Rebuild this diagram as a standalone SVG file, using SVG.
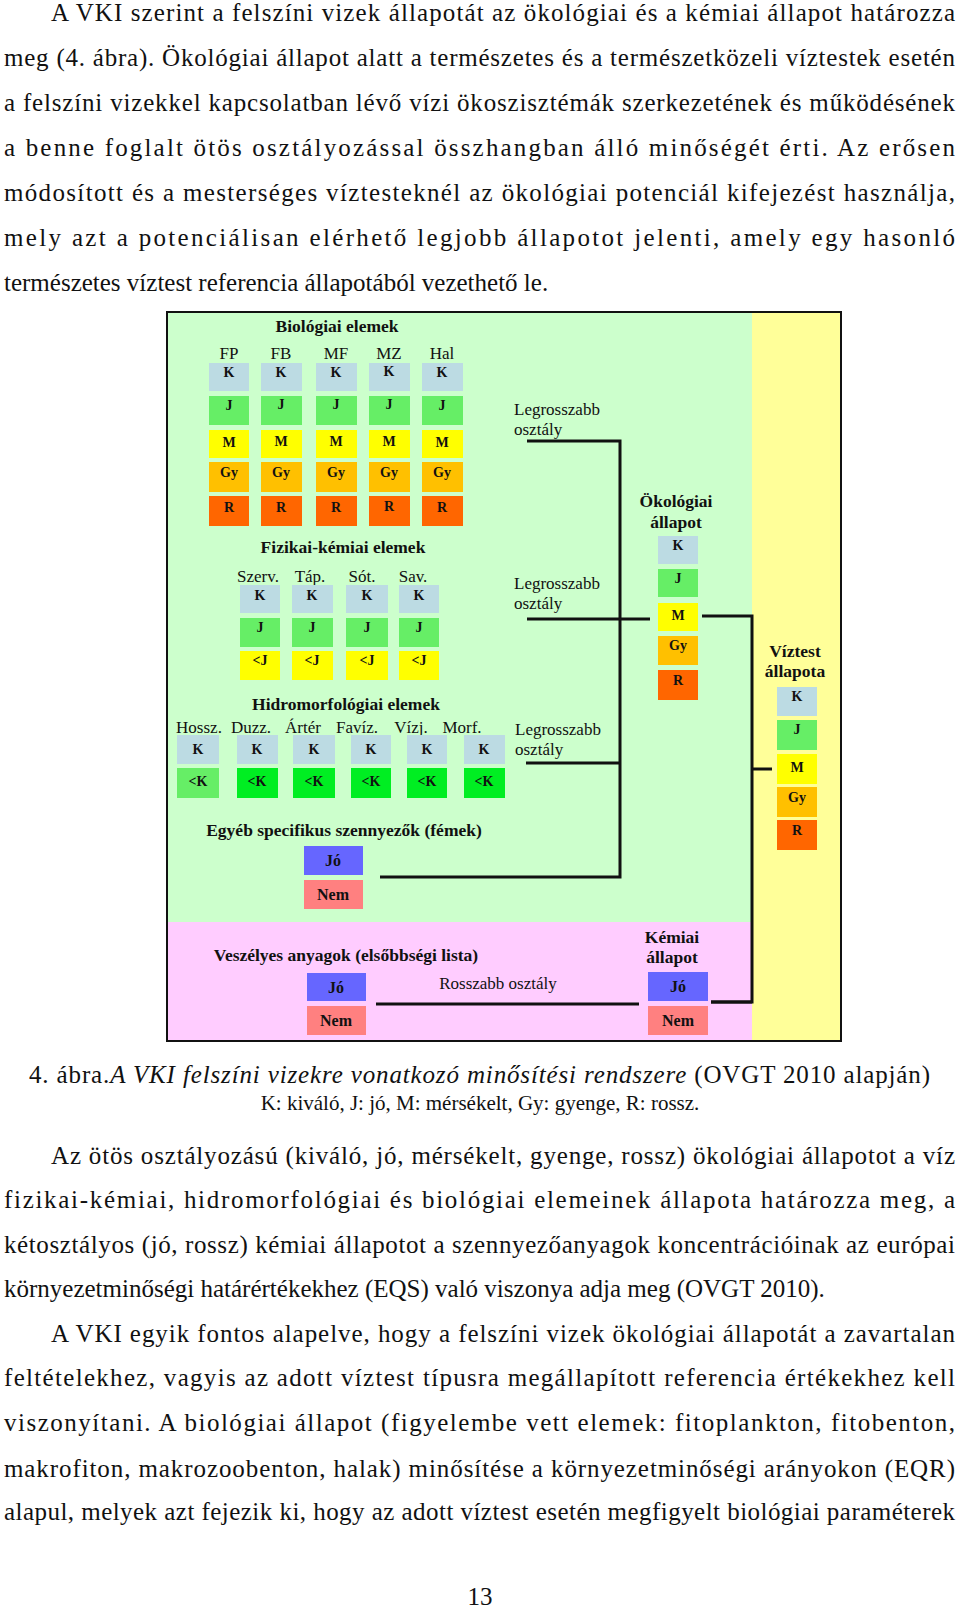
<svg xmlns="http://www.w3.org/2000/svg" width="960" height="1610" viewBox="0 0 960 1610">
<style>
text{font-family:"Liberation Serif","Times New Roman",serif;fill:#111}
.p{font-size:25px}
.t{font-size:17.5px;font-weight:bold;text-anchor:middle}
.l{font-size:17px;text-anchor:middle}
.lg{font-size:17px}
.b{font-size:14px;font-weight:bold;text-anchor:middle}
.K{fill:#bcdbe3}.J{fill:#66ee66}.M{fill:#ffff00}.Gy{fill:#ffc000}.R{fill:#ff6600}.G2{fill:#00ee22}.Jo{fill:#6666ff}.Nem{fill:#ff8080}
.ln{stroke:#111;stroke-width:3;fill:none}
</style>
<rect width="960" height="1610" fill="#fff"/>
<g id="text-top" class="p">
<text x="51" y="21" textLength="904" lengthAdjust="spacing" word-spacing="0">A VKI szerint a felszíni vizek állapotát az ökológiai és a kémiai állapot határozza</text>
<text x="4" y="66" textLength="951" lengthAdjust="spacing">meg (4. ábra). Ökológiai állapot alatt a természetes és a természetközeli víztestek esetén</text>
<text x="4" y="111" textLength="951" lengthAdjust="spacing">a felszíni vizekkel kapcsolatban lévő vízi ökoszisztémák szerkezetének és működésének</text>
<text x="4" y="156" textLength="951" lengthAdjust="spacing">a benne foglalt ötös osztályozással összhangban álló minőségét érti. Az erősen</text>
<text x="4" y="201" textLength="951" lengthAdjust="spacing">módosított és a mesterséges víztesteknél az ökológiai potenciál kifejezést használja,</text>
<text x="4" y="246" textLength="951" lengthAdjust="spacing">mely azt a potenciálisan elérhető legjobb állapotot jelenti, amely egy hasonló</text>
<text x="4" y="291">természetes víztest referencia állapotából vezethető le.</text>
</g>
<g id="backgrounds">
<rect x="167" y="312" width="585" height="610" fill="#ccffcc"/>
<rect x="167" y="922" width="585" height="119" fill="#ffccff"/>
<rect x="752" y="312" width="89" height="729" fill="#ffff99"/>
<rect x="167" y="312" width="674" height="729" fill="none" stroke="#111" stroke-width="2"/>
</g>
<g id="connectors">
<polyline class="ln" points="527,441 620,441 620,877 380,877"/>
<line class="ln" x1="527" y1="619" x2="650" y2="619" stroke-width="5"/>
<line class="ln" x1="526" y1="763" x2="620" y2="763"/>
<polyline class="ln" points="702,616 752,616 752,1002 711,1002"/>
<line class="ln" x1="752" y1="769" x2="772" y2="769"/>
<line class="ln" x1="376" y1="1004" x2="639" y2="1004"/>
<line class="ln" x1="711" y1="1002" x2="752" y2="1002" stroke-width="5"/>
</g>
<g id="bio">
<text class="t" x="337" y="332">Biológiai elemek</text>
<text class="l" x="229" y="359">FP</text><text class="l" x="281" y="359">FB</text><text class="l" x="336" y="359">MF</text><text class="l" x="389" y="359">MZ</text><text class="l" x="442" y="359">Hal</text>
<g id="bio-cols">
<rect class="K" x="209" y="363" width="40" height="28"/><rect class="J" x="209" y="396" width="40" height="29"/><rect class="M" x="209" y="430" width="40" height="28"/><rect class="Gy" x="209" y="462" width="40" height="30"/><rect class="R" x="209" y="496" width="40" height="30"/>
<rect class="K" x="261" y="363" width="41" height="28"/><rect class="J" x="261" y="396" width="41" height="29"/><rect class="M" x="261" y="430" width="41" height="28"/><rect class="Gy" x="261" y="462" width="41" height="30"/><rect class="R" x="261" y="496" width="41" height="30"/>
<rect class="K" x="316" y="363" width="41" height="28"/><rect class="J" x="316" y="396" width="41" height="29"/><rect class="M" x="316" y="430" width="41" height="28"/><rect class="Gy" x="316" y="462" width="41" height="30"/><rect class="R" x="316" y="496" width="41" height="30"/>
<rect class="K" x="369" y="363" width="41" height="28"/><rect class="J" x="369" y="396" width="41" height="29"/><rect class="M" x="369" y="430" width="41" height="28"/><rect class="Gy" x="369" y="462" width="41" height="30"/><rect class="R" x="369" y="496" width="41" height="30"/>
<rect class="K" x="422" y="363" width="41" height="28"/><rect class="J" x="422" y="396" width="41" height="29"/><rect class="M" x="422" y="430" width="41" height="28"/><rect class="Gy" x="422" y="462" width="41" height="30"/><rect class="R" x="422" y="496" width="41" height="30"/>
</g>
<g class="b">
<text x="229" y="377">K</text><text x="281" y="377">K</text><text x="336" y="377">K</text><text x="389" y="376">K</text><text x="442" y="377">K</text>
<text x="229" y="410">J</text><text x="281" y="409">J</text><text x="336" y="409">J</text><text x="389" y="409">J</text><text x="442" y="410">J</text>
<text x="229" y="447">M</text><text x="281" y="446">M</text><text x="336" y="446">M</text><text x="389" y="446">M</text><text x="442" y="447">M</text>
<text x="229" y="477">Gy</text><text x="281" y="477">Gy</text><text x="336" y="477">Gy</text><text x="389" y="477">Gy</text><text x="442" y="477">Gy</text>
<text x="229" y="512">R</text><text x="281" y="512">R</text><text x="336" y="512">R</text><text x="389" y="511">R</text><text x="442" y="512">R</text>
</g>
</g>
<g id="fiz">
<text class="t" x="343" y="553">Fizikai-kémiai elemek</text>
<text class="l" x="258" y="582">Szerv.</text><text class="l" x="310" y="582">Táp.</text><text class="l" x="362" y="582">Sót.</text><text class="l" x="413" y="582">Sav.</text>
<rect class="K" x="240" y="585" width="40" height="28"/><rect class="J" x="240" y="618" width="40" height="29"/><rect class="M" x="240" y="651" width="40" height="29"/>
<rect class="K" x="292" y="585" width="41" height="28"/><rect class="J" x="292" y="618" width="41" height="29"/><rect class="M" x="292" y="651" width="41" height="29"/>
<rect class="K" x="346" y="585" width="42" height="28"/><rect class="J" x="346" y="618" width="42" height="29"/><rect class="M" x="346" y="651" width="42" height="29"/>
<rect class="K" x="399" y="585" width="40" height="28"/><rect class="J" x="399" y="618" width="40" height="29"/><rect class="M" x="399" y="651" width="40" height="29"/>
<g class="b">
<text x="260" y="600">K</text><text x="312" y="600">K</text><text x="367" y="600">K</text><text x="419" y="600">K</text>
<text x="260" y="632">J</text><text x="312" y="632">J</text><text x="367" y="632">J</text><text x="419" y="632">J</text>
<text x="260" y="665">&lt;J</text><text x="312" y="665">&lt;J</text><text x="367" y="665">&lt;J</text><text x="419" y="665">&lt;J</text>
</g>
</g>
<g id="hidro">
<text class="t" x="346" y="710">Hidromorfológiai elemek</text>
<text class="l" x="199" y="733">Hossz.</text><text class="l" x="251" y="733">Duzz.</text><text class="l" x="303" y="733">Ártér</text><text class="l" x="357" y="733">Favíz.</text><text class="l" x="411" y="733">Vízj.</text><text class="l" x="462" y="733">Morf.</text>
<rect class="K" x="177" y="735" width="42" height="29"/><rect class="J" x="177" y="768" width="42" height="30"/>
<rect class="K" x="237" y="735" width="41" height="29"/><rect class="G2" x="237" y="768" width="41" height="30"/>
<rect class="K" x="293" y="735" width="42" height="29"/><rect class="G2" x="293" y="768" width="42" height="30"/>
<rect class="K" x="351" y="735" width="40" height="29"/><rect class="G2" x="351" y="768" width="40" height="30"/>
<rect class="K" x="407" y="735" width="40" height="29"/><rect class="G2" x="407" y="768" width="40" height="30"/>
<rect class="K" x="464" y="735" width="41" height="29"/><rect class="G2" x="464" y="768" width="41" height="30"/>
<g class="b">
<text x="198" y="754">K</text><text x="257" y="754">K</text><text x="314" y="754">K</text><text x="371" y="754">K</text><text x="427" y="754">K</text><text x="484" y="754">K</text>
<text x="198" y="786">&lt;K</text><text x="257" y="786">&lt;K</text><text x="314" y="786">&lt;K</text><text x="371" y="786">&lt;K</text><text x="427" y="786">&lt;K</text><text x="484" y="786">&lt;K</text>
</g>
</g>
<g id="egyeb">
<text class="t" x="344" y="836">Egyéb specifikus szennyezők (fémek)</text>
<rect class="Jo" x="304" y="846" width="59" height="29"/><rect class="Nem" x="304" y="880" width="59" height="29"/>
<text class="b" x="333" y="866" style="font-size:16px">Jó</text><text class="b" x="333" y="900" style="font-size:16px">Nem</text>
</g>
<g id="legrosszabb">
<text class="lg" x="514" y="415">Legrosszabb</text><text class="lg" x="514" y="435">osztály</text>
<text class="lg" x="514" y="589">Legrosszabb</text><text class="lg" x="514" y="609">osztály</text>
<text class="lg" x="515" y="735">Legrosszabb</text><text class="lg" x="515" y="755">osztály</text>
</g>
<g id="okologiai">
<text class="t" x="676" y="507">Ökológiai</text><text class="t" x="676" y="528">állapot</text>
<rect class="K" x="658" y="536" width="40" height="28"/><rect class="J" x="658" y="569" width="40" height="28"/><rect class="M" x="658" y="603" width="40" height="28"/><rect class="Gy" x="658" y="636" width="40" height="29"/><rect class="R" x="658" y="670" width="40" height="30"/>
<g class="b"><text x="678" y="550">K</text><text x="678" y="583">J</text><text x="678" y="620">M</text><text x="678" y="650">Gy</text><text x="678" y="685">R</text></g>
</g>
<g id="viztest">
<text class="t" x="795" y="657">Víztest</text><text class="t" x="795" y="677">állapota</text>
<rect class="K" x="777" y="687" width="40" height="29"/><rect class="J" x="777" y="720" width="40" height="30"/><rect class="M" x="777" y="754" width="40" height="30"/><rect class="Gy" x="777" y="787" width="40" height="30"/><rect class="R" x="777" y="820" width="40" height="30"/>
<g class="b"><text x="797" y="701">K</text><text x="797" y="734">J</text><text x="797" y="772">M</text><text x="797" y="802">Gy</text><text x="797" y="835">R</text></g>
</g>
<g id="veszelyes">
<text class="t" x="346" y="961">Veszélyes anyagok (elsőbbségi lista)</text>
<rect class="Jo" x="307" y="973" width="59" height="28"/><rect class="Nem" x="307" y="1006" width="59" height="29"/>
<text class="b" x="336" y="993" style="font-size:16px">Jó</text><text class="b" x="336" y="1026" style="font-size:16px">Nem</text>
<text class="l" x="498" y="989">Rosszabb osztály</text>
</g>
<g id="kemiai">
<text class="t" x="672" y="943">Kémiai</text><text class="t" x="672" y="963">állapot</text>
<rect class="Jo" x="648" y="972" width="60" height="29"/><rect class="Nem" x="648" y="1006" width="60" height="29"/>
<text class="b" x="678" y="992" style="font-size:16px">Jó</text><text class="b" x="678" y="1026" style="font-size:16px">Nem</text>
</g>
<g id="caption">
<text x="29" y="1083" style="font-size:25px" textLength="901" lengthAdjust="spacing">4. ábra.<tspan font-style="italic">A VKI felszíni vizekre vonatkozó minősítési rendszere</tspan> (OVGT 2010 alapján)</text>
<text x="480" y="1110" style="font-size:21px" text-anchor="middle">K: kiváló, J: jó, M: mérsékelt, Gy: gyenge, R: rossz.</text>
</g>
<g id="text-bottom" class="p">
<text x="51" y="1164" textLength="904" lengthAdjust="spacing">Az ötös osztályozású (kiváló, jó, mérsékelt, gyenge, rossz) ökológiai állapotot a víz</text>
<text x="4" y="1208" textLength="951" lengthAdjust="spacing">fizikai-kémiai, hidromorfológiai és biológiai elemeinek állapota határozza meg, a</text>
<text x="4" y="1253" textLength="951" lengthAdjust="spacing">kétosztályos (jó, rossz) kémiai állapotot a szennyezőanyagok koncentrációinak az európai</text>
<text x="4" y="1297">környezetminőségi határértékekhez (EQS) való viszonya adja meg (OVGT 2010).</text>
<text x="51" y="1342" textLength="904" lengthAdjust="spacing">A VKI egyik fontos alapelve, hogy a felszíni vizek ökológiai állapotát a zavartalan</text>
<text x="4" y="1386" textLength="951" lengthAdjust="spacing">feltételekhez, vagyis az adott víztest típusra megállapított referencia értékekhez kell</text>
<text x="4" y="1431" textLength="951" lengthAdjust="spacing">viszonyítani. A biológiai állapot (figyelembe vett elemek: fitoplankton, fitobenton,</text>
<text x="4" y="1477" textLength="951" lengthAdjust="spacing">makrofiton, makrozoobenton, halak) minősítése a környezetminőségi arányokon (EQR)</text>
<text x="4" y="1520" textLength="951" lengthAdjust="spacing">alapul, melyek azt fejezik ki, hogy az adott víztest esetén megfigyelt biológiai paraméterek</text>
<text x="480" y="1605" text-anchor="middle">13</text>
</g>
</svg>
